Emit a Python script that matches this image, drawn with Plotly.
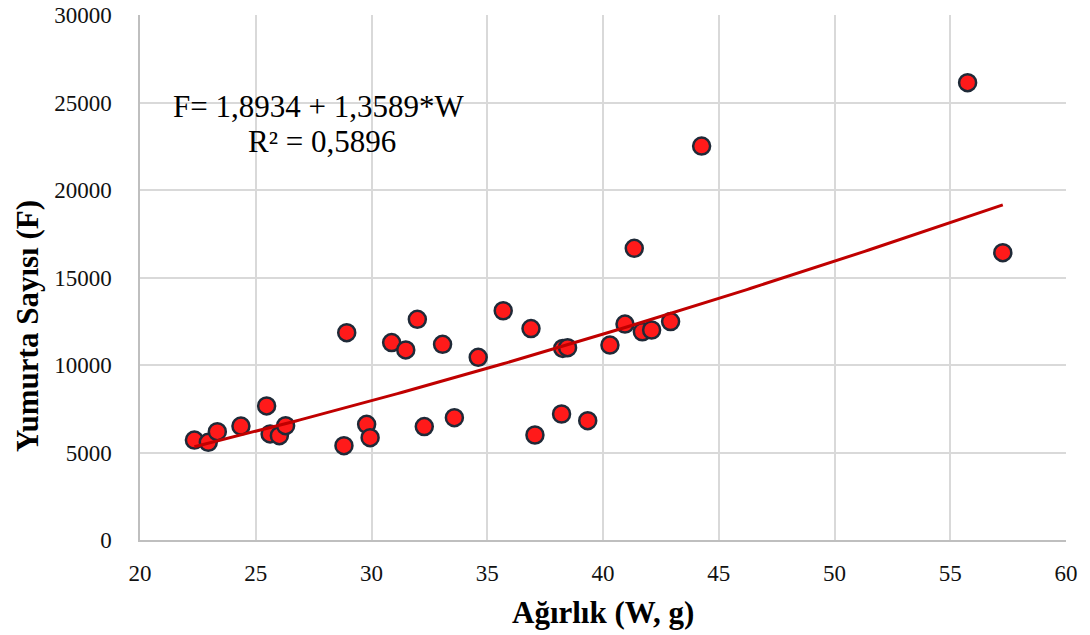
import numpy as np
import plotly.graph_objects as go

# Data
weight_g = [22.35, 22.95, 23.34, 24.36, 25.47, 25.62, 26.02, 26.29, 28.81, 28.93,
            29.79, 29.94, 30.87, 31.48, 31.98, 32.28, 33.07, 33.58, 34.61, 35.69,
            36.89, 37.06, 38.21, 38.26, 38.47, 39.34, 40.30, 40.95, 41.35, 41.70,
            42.10, 42.92, 44.26, 55.75, 57.27]
egg_count = [5710, 5580, 6190, 6510, 7660, 6060, 5960, 6530, 5390, 11850,
             6610, 5850, 11280, 10860, 12610, 6480, 11180, 6990, 10440, 13100,
             12080, 6000, 7200, 10950, 10990, 6820, 11140, 12340, 16670, 11900,
             12000, 12480, 22510, 26130, 16420]

# Power trendline coefficients (log F = a + b log W), as printed on chart
log_a = 1.8934
b_exp = 1.3589
eq_text = "F= 1,8934 + 1,3589*W"
r2_text = "R² = 0,5896"

x_ticks = [20, 25, 30, 35, 40, 45, 50, 55, 60]
y_ticks = [0, 5000, 10000, 15000, 20000, 25000, 30000]

w_fit = np.linspace(min(weight_g), max(weight_g), 200)
f_fit = 10 ** log_a * w_fit ** b_exp

fig = go.Figure()
fig.add_trace(go.Scatter(
    x=weight_g, y=egg_count, mode="markers",
    marker=dict(size=17, color="#ff1a1a", line=dict(color="#1f2a38", width=2.5)),
    showlegend=False, cliponaxis=False))
fig.add_trace(go.Scatter(
    x=w_fit, y=f_fit, mode="lines",
    line=dict(color="#c00000", width=3), showlegend=False))

font_family = "Liberation Serif"
axis_common = dict(showgrid=True, gridcolor="#d9d9d9", gridwidth=1.5,
                   zeroline=False, showline=True, linecolor="#bfbfbf", linewidth=1.5,
                   tickfont=dict(family=font_family, size=23, color="#111111"),
                   ticks="", automargin=False)

fig.update_xaxes(range=[20, 60], tickvals=x_ticks, ticktext=[str(v) for v in x_ticks],
                 ticklabelstandoff=12, **axis_common)
fig.update_yaxes(range=[0, 30000], tickvals=y_ticks, ticktext=[str(v) for v in y_ticks],
                 ticklabelstandoff=22, **axis_common)

fig.add_annotation(text=eq_text, x=27.73, y=24800, xref="x", yref="y",
                   showarrow=False, xanchor="center", yanchor="middle",
                   font=dict(family=font_family, size=31, color="#000000"))
fig.add_annotation(text=r2_text, x=27.86, y=22800, xref="x", yref="y",
                   showarrow=False, xanchor="center", yanchor="middle",
                   font=dict(family=font_family, size=31, color="#000000"))

fig.add_annotation(text="<b>Ağırlık (W, g)</b>", x=0.5, y=0, xref="paper", yref="paper",
                   showarrow=False, xanchor="center", yanchor="middle", yshift=-72,
                   font=dict(family=font_family, size=31, color="#000000"))
fig.add_annotation(text="<b>Yumurta Sayısı (F)</b>", x=0, y=0.4076, xref="paper", yref="paper",
                   showarrow=False, xanchor="center", yanchor="middle", xshift=-113,
                   textangle=-90,
                   font=dict(family=font_family, size=31, color="#000000"))

fig.update_layout(width=1090, height=635,
                  margin=dict(l=140, r=24, t=15, b=95, autoexpand=False),
                  plot_bgcolor="white", paper_bgcolor="white")

fig.write_html("out.html")
